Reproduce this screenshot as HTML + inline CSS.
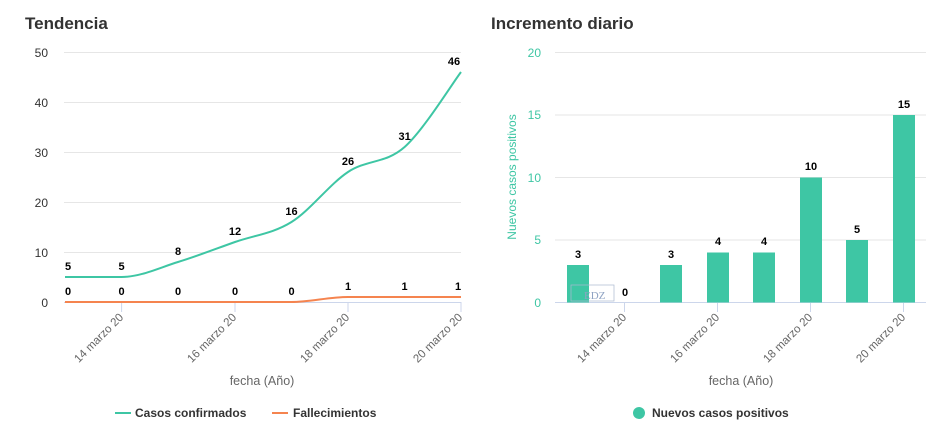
<!DOCTYPE html>
<html><head><meta charset="utf-8"><style>
body{margin:0;background:#fff;width:940px;height:440px;overflow:hidden}
svg{font-family:"Liberation Sans","DejaVu Sans",sans-serif}
</style></head><body>
<svg width="940" height="440" xmlns="http://www.w3.org/2000/svg">
<!-- LEFT -->
<text x="25" y="29" font-size="17" font-weight="bold" fill="#333">Tendencia</text>
<g stroke="#e6e6e6" stroke-width="1">
<line x1="64" x2="461" y1="52.5" y2="52.5"/><line x1="64" x2="461" y1="102.5" y2="102.5"/>
<line x1="64" x2="461" y1="152.5" y2="152.5"/><line x1="64" x2="461" y1="202.5" y2="202.5"/>
<line x1="64" x2="461" y1="252.5" y2="252.5"/>
</g>
<line x1="64" x2="461" y1="302.5" y2="302.5" stroke="#ccd6eb"/>
<g stroke="#ccd6eb"><line x1="121.6" x2="121.6" y1="302" y2="312"/><line x1="235" x2="235" y1="302" y2="312"/><line x1="348" x2="348" y1="302" y2="312"/><line x1="461" x2="461" y1="302" y2="312"/></g>
<g font-size="12" fill="#333" text-anchor="end">
<text x="48" y="57">50</text><text x="48" y="107">40</text><text x="48" y="157">30</text><text x="48" y="207">20</text><text x="48" y="257">10</text><text x="48" y="307">0</text>
</g>
<g font-size="11.5" fill="#666" text-anchor="end">
<text transform="translate(124,318) rotate(-45)">14 marzo 20</text>
<text transform="translate(237,318) rotate(-45)">16 marzo 20</text>
<text transform="translate(350,318) rotate(-45)">18 marzo 20</text>
<text transform="translate(463,318) rotate(-45)">20 marzo 20</text>
</g>
<text x="262" y="385" font-size="12.5" fill="#666" text-anchor="middle">fecha (Año)</text>
<path d="M65,302 L291.5,302 C310,302 329,297 348,297 L461,297" fill="none" stroke="#f5844f" stroke-width="2"/>
<path d="M65,277 C74.4,277 102.8,277 121.6,277 C140.4,277 159.1,267.8 178,262 C196.9,256.2 216.1,248.7 235,242 C253.9,235.3 272.7,233.7 291.5,222 C310.3,210.3 329.2,184.5 348,172 C366.9,159.5 385.8,163.7 404.6,147 C423.4,130.3 451.6,84.5 461,72" fill="none" stroke="#3ec6a4" stroke-width="2"/>
<g font-size="11" font-weight="bold" fill="#000" text-anchor="middle">
<text x="68" y="270">5</text><text x="121.6" y="270">5</text><text x="178" y="255">8</text><text x="235" y="235">12</text><text x="291.5" y="215">16</text><text x="348" y="165">26</text><text x="404.6" y="140">31</text><text x="454" y="65">46</text>
<text x="68" y="295">0</text><text x="121.6" y="295">0</text><text x="178" y="295">0</text><text x="235" y="295">0</text><text x="291.5" y="295">0</text><text x="348" y="290">1</text><text x="404.6" y="290">1</text><text x="458" y="290">1</text>
</g>
<line x1="115" x2="131" y1="413" y2="413" stroke="#3ec6a4" stroke-width="2"/>
<text x="135" y="417" font-size="12" font-weight="bold" fill="#333">Casos confirmados</text>
<line x1="272" x2="288" y1="413" y2="413" stroke="#f5844f" stroke-width="2"/>
<text x="293" y="417" font-size="12" font-weight="bold" fill="#333">Fallecimientos</text>

<!-- RIGHT -->
<text x="491" y="29" font-size="17" font-weight="bold" fill="#333">Incremento diario</text>
<g stroke="#e6e6e6">
<line x1="555" x2="926" y1="52.5" y2="52.5"/><line x1="555" x2="926" y1="115" y2="115"/>
<line x1="555" x2="926" y1="177.5" y2="177.5"/><line x1="555" x2="926" y1="240" y2="240"/>
</g>
<line x1="555" x2="926" y1="302.5" y2="302.5" stroke="#ccd6eb"/>
<g stroke="#ccd6eb"><line x1="624.5" x2="624.5" y1="302" y2="312"/><line x1="717.5" x2="717.5" y1="302" y2="312"/><line x1="810.5" x2="810.5" y1="302" y2="312"/><line x1="903.5" x2="903.5" y1="302" y2="312"/></g>
<g font-size="12" fill="#3ec6a4" text-anchor="end">
<text x="541" y="57">20</text><text x="541" y="119">15</text><text x="541" y="182">10</text><text x="541" y="244">5</text><text x="541" y="307">0</text>
</g>
<text transform="translate(516,177) rotate(-90)" font-size="12" fill="#3ec6a4" text-anchor="middle">Nuevos casos positivos</text>
<g fill="#3ec6a4">
<rect x="567" y="265" width="22" height="37.5"/>
<rect x="660" y="265" width="22" height="37.5"/>
<rect x="707" y="252.5" width="22" height="50"/>
<rect x="753" y="252.5" width="22" height="50"/>
<rect x="800" y="177.5" width="22" height="125"/>
<rect x="846" y="240" width="22" height="62.5"/>
<rect x="893" y="115" width="22" height="187.5"/>
</g>
<rect x="571" y="285" width="43" height="16" fill="none" stroke="#aab8d0" stroke-width="0.7"/>
<text x="584" y="299" font-size="11" fill="#8fa3c3" font-family="Liberation Serif,serif">EDZ</text>
<g font-size="11" font-weight="bold" fill="#000" text-anchor="middle">
<text x="578" y="258">3</text><text x="625" y="296">0</text><text x="671" y="258">3</text><text x="718" y="245">4</text><text x="764" y="245">4</text><text x="811" y="170">10</text><text x="857" y="233">5</text><text x="904" y="108">15</text>
</g>
<g font-size="11.5" fill="#666" text-anchor="end">
<text transform="translate(627,318) rotate(-45)">14 marzo 20</text>
<text transform="translate(720,318) rotate(-45)">16 marzo 20</text>
<text transform="translate(813,318) rotate(-45)">18 marzo 20</text>
<text transform="translate(906,318) rotate(-45)">20 marzo 20</text>
</g>
<text x="741" y="385" font-size="12.5" fill="#666" text-anchor="middle">fecha (Año)</text>
<circle cx="639" cy="413" r="6" fill="#3ec6a4"/>
<text x="652" y="417" font-size="12" font-weight="bold" fill="#333">Nuevos casos positivos</text>
</svg>
</body></html>
